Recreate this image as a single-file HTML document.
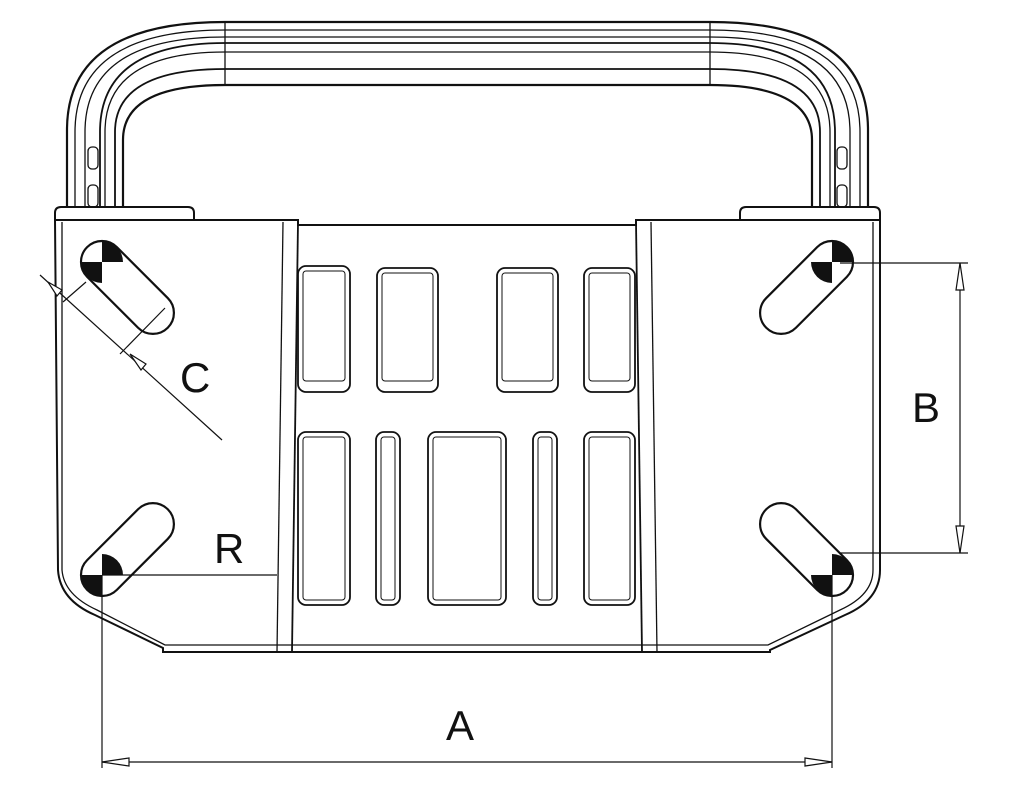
<!DOCTYPE html>
<html><head><meta charset="utf-8"><style>
html,body{margin:0;padding:0;background:#fff}
svg{display:block}
text{font-family:"Liberation Sans",sans-serif;fill:#111}
</style></head><body>
<svg width="1024" height="791" viewBox="0 0 1024 791" xmlns="http://www.w3.org/2000/svg">
<defs>
<g id="hole">
  <!-- circle at 0,0 r=21, slot toward (72,0) rotated by caller -->
</g>
</defs>
<g fill="none" stroke="#111" stroke-width="1.3">
<!-- handle -->
<path d="M67 207 V130 Q67 22 225 22 H710 Q868 22 868 130 V207" stroke-width="2.2"/>
<path d="M75 207 V132 Q75 30 225 30 H710 Q860 30 860 132 V207"/>
<path d="M85 207 V132 Q85 37 225 37 H710 Q850 37 850 132 V207"/>
<path d="M100 207 V132 Q100 43 225 43 H710 Q835 43 835 132 V207" stroke-width="1.8"/>
<path d="M105 207 V132 Q105 52 225 52 H710 Q830 52 830 132 V207"/>
<path d="M115 207 V132 Q115 69 225 69 H710 Q820 69 820 132 V207" stroke-width="1.8"/>
<path d="M123 207 V140 Q123 85 225 85 H710 Q812 85 812 140 V207" stroke-width="2.2"/>
<line x1="225" y1="22" x2="225" y2="85"/>
<line x1="710" y1="22" x2="710" y2="85"/>
<rect x="88" y="147" width="10" height="22" rx="4"/>
<rect x="88" y="185" width="10" height="22" rx="4"/>
<rect x="837" y="147" width="10" height="22" rx="4"/>
<rect x="837" y="185" width="10" height="22" rx="4"/>
<!-- flanges -->
<path d="M55 220 V213 Q55 207 61 207 H188 Q194 207 194 213 V220" stroke-width="2"/>
<path d="M740 220 V213 Q740 207 746 207 H874 Q880 207 880 213 V220" stroke-width="2"/>
<!-- body outline -->
<path d="M55 220 H298 L298 225 H636 V220 H880 V570 Q880 600 845 615 L770 650 V652 H163 V648 L95 615 Q60 600 58 570 Z" stroke-width="2"/>
<path d="M62 222 V570 Q64 595 97 610 L165 645 H768 L840 610 Q873 595 873 570 V222"/>
<!-- panel lines -->
<line x1="283" y1="222" x2="277" y2="652"/>
<line x1="298" y1="222" x2="292" y2="652" stroke-width="1.8"/>
<line x1="636" y1="222" x2="642" y2="652" stroke-width="1.8"/>
<line x1="651" y1="222" x2="657" y2="652"/>
<!-- slots -->
<g stroke-width="1.8">
<rect x="298" y="266" width="52" height="126" rx="8"/>
<rect x="377" y="268" width="61" height="124" rx="8"/>
<rect x="497" y="268" width="61" height="124" rx="8"/>
<rect x="584" y="268" width="51" height="124" rx="8"/>
<rect x="298" y="432" width="52" height="173" rx="8"/>
<rect x="376" y="432" width="24" height="173" rx="8"/>
<rect x="428" y="432" width="78" height="173" rx="8"/>
<rect x="533" y="432" width="24" height="173" rx="8"/>
<rect x="584" y="432" width="51" height="173" rx="8"/>
</g>
<g stroke-width="1">
<rect x="303" y="271" width="42" height="110" rx="3"/>
<rect x="382" y="273" width="51" height="108" rx="3"/>
<rect x="502" y="273" width="51" height="108" rx="3"/>
<rect x="589" y="273" width="41" height="108" rx="3"/>
<rect x="303" y="437" width="42" height="163" rx="3"/>
<rect x="381" y="437" width="14" height="163" rx="3"/>
<rect x="433" y="437" width="68" height="163" rx="3"/>
<rect x="538" y="437" width="14" height="163" rx="3"/>
<rect x="589" y="437" width="41" height="163" rx="3"/>
</g>
</g>
<!-- holes -->
<g stroke="#111" stroke-width="2.2" fill="none">
<!-- TL -->
<g transform="translate(102,262) rotate(45)">
<path d="M0 -21 H72 A21 21 0 0 1 72 21 H0 A21 21 0 0 1 0 -21 Z" fill="#fff"/>
</g>
<!-- TR -->
<g transform="translate(832,262) rotate(135)">
<path d="M0 -21 H72 A21 21 0 0 1 72 21 H0 A21 21 0 0 1 0 -21 Z" fill="#fff"/>
</g>
<!-- BL -->
<g transform="translate(102,575) rotate(-45)">
<path d="M0 -21 H72 A21 21 0 0 1 72 21 H0 A21 21 0 0 1 0 -21 Z" fill="#fff"/>
</g>
<!-- BR -->
<g transform="translate(832,575) rotate(-135)">
<path d="M0 -21 H72 A21 21 0 0 1 72 21 H0 A21 21 0 0 1 0 -21 Z" fill="#fff"/>
</g>
</g>
<g fill="#111" stroke="none">
<path d="M102 262 V241 A21 21 0 0 1 123 262 Z"/><path d="M102 262 H81 A21 21 0 0 0 102 283 Z"/>
<path d="M832 262 V241 A21 21 0 0 1 853 262 Z"/><path d="M832 262 H811 A21 21 0 0 0 832 283 Z"/>
<path d="M102 575 V554 A21 21 0 0 1 123 575 Z"/><path d="M102 575 H81 A21 21 0 0 0 102 596 Z"/>
<path d="M832 575 V554 A21 21 0 0 1 853 575 Z"/><path d="M832 575 H811 A21 21 0 0 0 832 596 Z"/>
</g>
<g stroke="#111" stroke-width="1.2" fill="none">
<!-- B dim -->
<line x1="840" y1="263" x2="968" y2="263"/>
<line x1="840" y1="553" x2="968" y2="553"/>
<line x1="960" y1="263" x2="960" y2="553"/>
<path d="M956 290 L960 263 L964 290 Z" fill="#fff"/>
<path d="M956 526 L960 553 L964 526 Z" fill="#fff"/>
<!-- A dim -->
<line x1="102" y1="575" x2="102" y2="768"/>
<line x1="832" y1="575" x2="832" y2="768"/>
<line x1="102" y1="762" x2="832" y2="762"/>
<path d="M129 758 L102 762 L129 766 Z" fill="#fff"/>
<path d="M805 758 L832 762 L805 766 Z" fill="#fff"/>
<!-- R leader -->
<line x1="102" y1="575" x2="277" y2="575"/>
<!-- C dim -->
<line x1="40" y1="275" x2="222" y2="440"/>
<line x1="63" y1="302" x2="86" y2="282"/>
<line x1="120" y1="354" x2="165" y2="308"/>
<path d="M48 282 L57 296 L62 290 Z" fill="#fff"/>
<path d="M130 354 L141 370 L146 364 Z" fill="#fff"/>
</g>
<text x="180" y="392" font-size="42">C</text>
<text x="912" y="422" font-size="42">B</text>
<text x="214" y="563" font-size="42">R</text>
<text x="446" y="740" font-size="42">A</text>
</svg>
</body></html>
